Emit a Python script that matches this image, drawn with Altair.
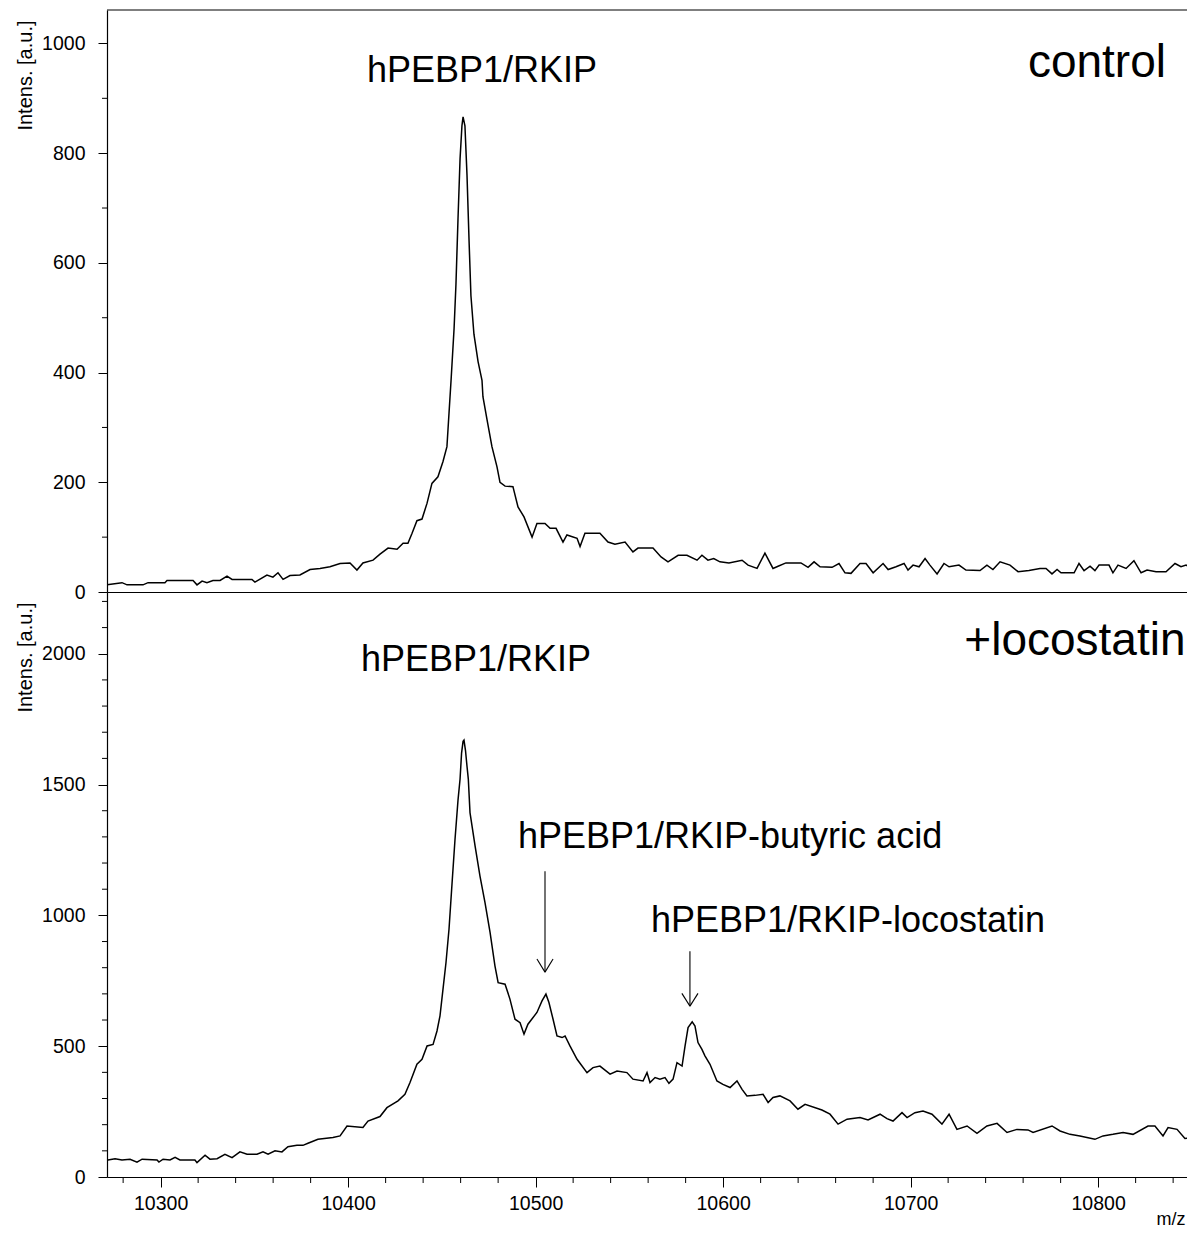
import altair as alt
import pandas as pd

FONT = "Liberation Sans"

# ---------------- data ----------------
ctrl_mz = [10271.4, 10279.4, 10282.1, 10290.6, 10293.3, 10302.3, 10303.4, 10317.3, 10319.4, 10322.1,
           10324.7, 10327.9, 10331.7, 10335.4, 10338.1, 10348.7, 10350.3, 10356.7, 10359.9, 10362.6,
           10365.3, 10369.0, 10374.3, 10379.7, 10385.0, 10390.3, 10395.7, 10401.0, 10404.7, 10407.9,
           10413.3, 10417.0, 10421.3, 10426.1, 10429.3, 10431.9, 10434.1, 10436.7, 10439.4, 10442.1,
           10444.7, 10447.9, 10450.6, 10452.7, 10453.8, 10454.9, 10456.5, 10457.5, 10458.6, 10459.7,
           10460.7, 10461.3, 10462.3, 10463.4, 10464.5, 10465.5, 10467.1, 10469.3, 10471.4, 10471.9,
           10474.1, 10476.7, 10479.4, 10481.0, 10483.7, 10487.9, 10490.6, 10493.8, 10498.1, 10500.7,
           10505.0, 10507.7, 10510.9, 10514.6, 10516.7, 10522.1, 10523.7, 10526.3, 10534.3, 10538.6,
           10542.3, 10547.7, 10551.9, 10554.6, 10562.6, 10566.9, 10570.6, 10576.0, 10580.7, 10586.1,
           10588.7, 10591.9, 10595.0, 10598.3, 10603.1, 10610.1, 10613.3, 10618.1, 10622.3, 10626.6,
           10629.3, 10633.5, 10641.5, 10645.3, 10648.5, 10651.7, 10658.1, 10661.8, 10665.0, 10668.2,
           10673.0, 10676.2, 10680.0, 10685.3, 10688.0, 10692.2, 10696.5, 10698.6, 10701.3, 10704.5,
           10707.7, 10710.3, 10714.1, 10717.8, 10720.5, 10725.8, 10729.5, 10737.0, 10740.7, 10743.9,
           10747.7, 10753.0, 10757.3, 10763.1, 10769.0, 10772.2, 10775.4, 10778.1, 10780.2, 10787.2,
           10789.8, 10792.5, 10795.7, 10798.3, 10800.5, 10805.8, 10807.9, 10810.6, 10814.9, 10819.1,
           10822.9, 10826.1, 10830.9, 10836.2, 10841.0, 10844.2, 10846.9, 10851.7]
ctrl_int = [13, 17, 13, 13, 17, 17, 21, 21, 13, 20,
            17, 21, 21, 29, 23, 23, 18, 31, 27, 35,
            23, 30, 31, 41, 43, 46, 52, 53, 40, 53,
            58, 69, 80, 78, 89, 89, 107, 130, 133, 162,
            198, 210, 238, 265, 326, 386, 480, 560, 680, 790,
            850, 866, 850, 760, 640, 540, 470, 420, 386, 356,
            314, 265, 228, 200, 193, 192, 155, 137, 100, 125,
            125, 116, 116, 91, 104, 98, 83, 107, 107, 91,
            87, 91, 73, 80, 80, 64, 55, 67, 67, 58,
            67, 58, 61, 55, 53, 58, 49, 43, 71, 43,
            47, 53, 53, 45, 55, 46, 45, 52, 35, 34,
            52, 52, 35, 52, 41, 46, 52, 40, 49, 46,
            61, 49, 33, 52, 46, 49, 40, 39, 49, 41,
            55, 49, 37, 39, 43, 43, 33, 41, 35, 35,
            52, 39, 47, 39, 49, 49, 35, 49, 43, 57,
            35, 40, 37, 37, 52, 46, 49, 39]

loco_mz = [10271.9, 10275.7, 10279.4, 10283.7, 10287.4, 10290.1, 10298.1, 10299.1, 10301.3, 10305.0,
           10307.7, 10310.3, 10318.3, 10319.4, 10323.7, 10326.3, 10330.1, 10334.3, 10338.1, 10342.3,
           10346.1, 10351.4, 10354.6, 10357.3, 10361.0, 10364.7, 10367.9, 10372.7, 10375.9, 10378.6,
           10383.9, 10391.9, 10395.7, 10399.4, 10407.9, 10410.6, 10417.0, 10420.7, 10426.6, 10430.3,
           10433.0, 10436.7, 10439.4, 10442.1, 10445.3, 10447.4, 10449.0, 10450.6, 10452.2, 10453.8,
           10455.4, 10457.0, 10458.6, 10459.7, 10460.5, 10461.3, 10461.8, 10462.6, 10463.4, 10464.1,
           10465.0, 10467.7, 10470.3, 10473.0, 10475.7, 10478.3, 10480.0, 10483.7, 10486.3, 10489.0,
           10491.7, 10493.8, 10495.9, 10500.7, 10503.4, 10505.5, 10507.1, 10509.3, 10511.4, 10514.1,
           10515.7, 10518.3, 10522.1, 10527.4, 10530.6, 10534.3, 10539.7, 10543.4, 10548.7, 10551.9,
           10557.3, 10559.4, 10561.0, 10563.7, 10566.3, 10569.0, 10571.1, 10573.3, 10575.4, 10578.1,
           10579.7, 10581.3, 10583.5, 10585.0, 10586.6, 10588.7, 10590.3, 10593.0, 10596.7, 10599.9,
           10603.7, 10607.4, 10610.1, 10612.7, 10617.0, 10621.3, 10624.0, 10626.6, 10630.3, 10635.7,
           10639.9, 10643.7, 10652.7, 10657.0, 10661.3, 10666.1, 10673.0, 10677.3, 10683.7, 10687.4,
           10690.6, 10695.4, 10698.1, 10702.3, 10706.6, 10711.4, 10716.7, 10720.5, 10724.7, 10730.1,
           10735.4, 10740.7, 10746.1, 10751.4, 10756.7, 10762.6, 10765.3, 10775.4, 10779.7, 10785.0,
           10790.3, 10798.3, 10802.6, 10807.9, 10813.3, 10818.6, 10826.6, 10830.3, 10834.6, 10837.3,
           10842.1, 10846.3, 10851.7]
loco_int = [65, 70, 65, 68, 57, 68, 65, 57, 68, 65,
            75, 65, 65, 55, 83, 68, 70, 87, 74, 96,
            87, 87, 96, 87, 100, 96, 116, 121, 121, 129,
            144, 151, 157, 195, 189, 214, 231, 265, 291, 316,
            361, 431, 450, 501, 507, 558, 616, 718, 820, 947,
            1120, 1290, 1440, 1521, 1620, 1665, 1670, 1630, 1570, 1521,
            1393, 1266, 1151, 1049, 935, 807, 743, 737, 680, 603,
            590, 546, 584, 629, 673, 699, 667, 603, 539, 533,
            539, 501, 450, 399, 418, 424, 393, 405, 399, 374,
            367, 399, 361, 380, 374, 380, 358, 374, 437, 424,
            501, 571, 593, 577, 514, 488, 463, 431, 367, 354,
            342, 367, 335, 310, 312, 316, 285, 304, 310, 291,
            259, 278, 256, 240, 202, 221, 227, 218, 240, 223,
            214, 246, 227, 246, 252, 240, 202, 240, 182, 195,
            167, 195, 205, 170, 182, 180, 170, 195, 176, 163,
            157, 144, 157, 163, 170, 163, 195, 195, 157, 189,
            182, 147, 151]

x_major = [10300, 10400, 10500, 10600, 10700, 10800]
x_minor = [10280, 10320, 10340, 10360, 10380, 10420, 10440, 10460, 10480, 10520, 10540,
           10560, 10580, 10620, 10640, 10660, 10680, 10720, 10740, 10760, 10780, 10820, 10840]
top_major = [0, 200, 400, 600, 800, 1000]
top_minor = [100, 300, 500, 700, 900]
bot_major = [0, 500, 1000, 1500, 2000]
bot_minor = [100, 200, 300, 400, 600, 700, 800, 900, 1100, 1200, 1300, 1400,
             1600, 1700, 1800, 1900, 2100, 2200]

# annotations
top_label_text = ["hPEBP1/RKIP"]
top_label_mz = [10471.4]
top_label_int = [930]
bot_label_text = ["hPEBP1/RKIP", "hPEBP1/RKIP-butyric acid", "hPEBP1/RKIP-locostatin"]
bot_label_mz = [10468.2, 10603.7, 10666.6]
bot_label_int = [1934, 1257, 936]
cond_top = ["control"]
cond_top_mz = [10836.2]
cond_top_int = [939]
cond_bot = ["+locostatin"]
cond_bot_mz = [10846.6]
cond_bot_int = [1995]

# arrows: shafts and heads (x, y) -> (x2, y2)
arrow_x = [10505.0, 10500.7, 10509.3, 10582.3, 10578.0, 10586.6]
arrow_y = [1169, 833, 833, 863, 702, 702]
arrow_x2 = [10505.0, 10505.0, 10505.0, 10582.3, 10582.3, 10582.3]
arrow_y2 = [783, 783, 783, 653, 653, 653]

# ---------------- layout ----------------
W = 1080
H_TOP = 582
H_BOT = 585
X_DOMAIN = [10271.4, 10847.4]
TOP_DOMAIN = [0, 1061]
BOT_DOMAIN = [0, 2236]

xscale = alt.Scale(domain=X_DOMAIN, nice=False, zero=False)
yscale_top = alt.Scale(domain=TOP_DOMAIN, nice=False, zero=False)
yscale_bot = alt.Scale(domain=BOT_DOMAIN, nice=False, zero=False)


def y_axis(values):
    return alt.Axis(values=values, format="d", tickSize=9, tickColor="black", tickWidth=1,
                    domainColor="black", domainWidth=1.2,
                    labelPadding=13, labelFontSize=19.5, labelColor="black", labelFont=FONT,
                    grid=False, title="Intens. [a.u.]", titleFont=FONT,
                    titleFontSize=20, titleFontWeight="normal", titleColor="black",
                    titleAngle=270, titleAlign="right", titleBaseline="middle",
                    titleX=-82, titleY=10)


def x_axis(bottom):
    if bottom:
        return alt.Axis(values=x_major, format="d", tickSize=10, tickColor="black",
                        domainColor="black", domainWidth=1.2, labelPadding=7,
                        labelFontSize=19.5, labelColor="black",
                        labelFont=FONT, labelFlush=False, grid=False,
                        title="m/z", titleFont=FONT, titleFontSize=18, titleFontWeight="normal",
                        titleColor="black", titleAnchor="end", titleAlign="right",
                        titleBaseline="alphabetic", titleX=W - 2, titleY=47)
    return alt.Axis(labels=False, ticks=False, domainColor="black", domainWidth=1.2,
                    grid=False, title=None)


def panel(mz, inten, yscale, ymajor, yminor, height, labels, conds, bottom):
    xa = x_axis(bottom)
    ya = y_axis(ymajor)
    df = pd.DataFrame({"mz": mz, "I": inten})
    line = alt.Chart(df).mark_line(color="black", strokeWidth=1.5, clip=True).encode(
        x=alt.X("mz:Q", scale=xscale, axis=xa),
        y=alt.Y("I:Q", scale=yscale, axis=ya),
    )
    yminor_rules = alt.Chart(pd.DataFrame({"I": yminor})).mark_rule(
        color="black", strokeWidth=1).encode(
        y=alt.Y("I:Q", scale=yscale, axis=ya),
        x=alt.value(-5), x2=alt.value(0),
    )
    lab_text, lab_mz, lab_int = labels
    ann = alt.Chart(pd.DataFrame({"mz": lab_mz, "I": lab_int, "t": lab_text})).mark_text(
        font=FONT, fontSize=36, align="center", baseline="alphabetic", color="black").encode(
        x=alt.X("mz:Q", scale=xscale, axis=xa),
        y=alt.Y("I:Q", scale=yscale, axis=ya),
        text="t:N",
    )
    c_text, c_mz, c_int = conds
    cond = alt.Chart(pd.DataFrame({"mz": c_mz, "I": c_int, "t": c_text})).mark_text(
        font=FONT, fontSize=46, align="right", baseline="alphabetic", color="black").encode(
        x=alt.X("mz:Q", scale=xscale, axis=xa),
        y=alt.Y("I:Q", scale=yscale, axis=ya),
        text="t:N",
    )
    layers = [line, yminor_rules, ann, cond]
    if bottom:
        xminor_rules = alt.Chart(pd.DataFrame({"mz": x_minor})).mark_rule(
            color="black", strokeWidth=1).encode(
            x=alt.X("mz:Q", scale=xscale, axis=xa),
            y=alt.value(height), y2=alt.value(height + 6),
        )
        arrows = alt.Chart(pd.DataFrame({"mz": arrow_x, "I": arrow_y,
                                         "mz2": arrow_x2, "I2": arrow_y2})).mark_rule(
            color="black", strokeWidth=1.1).encode(
            x=alt.X("mz:Q", scale=xscale, axis=xa),
            y=alt.Y("I:Q", scale=yscale, axis=ya),
            x2="mz2:Q", y2="I2:Q",
        )
        layers += [xminor_rules, arrows]
    else:
        top_rule = alt.Chart(pd.DataFrame({"a": [0]})).mark_rule(
            color="black", strokeWidth=1.2).encode(
            x=alt.value(0), x2=alt.value(W), y=alt.value(0),
        )
        layers.append(top_rule)
    return alt.layer(*layers).properties(width=W, height=height)


top = panel(ctrl_mz, ctrl_int, yscale_top, top_major, top_minor, H_TOP,
            (top_label_text, top_label_mz, top_label_int),
            (cond_top, cond_top_mz, cond_top_int), False)
bot = panel(loco_mz, loco_int, yscale_bot, bot_major, bot_minor, H_BOT,
            (bot_label_text, bot_label_mz, bot_label_int),
            (cond_bot, cond_bot_mz, cond_bot_int), True)

# autosize "none": the concat reports its width but not its height, so the
# bottom padding carries the full height of the drawing.
chart = alt.vconcat(top, bot, spacing=0, bounds="flush").properties(
    autosize=alt.AutoSizeParams(type="none"),
    padding={"left": 99, "top": 2, "right": 0, "bottom": 1218},
    background="white",
).configure_view(stroke=None)

chart.save("out.html", embed_options={"renderer": "svg", "actions": False})
